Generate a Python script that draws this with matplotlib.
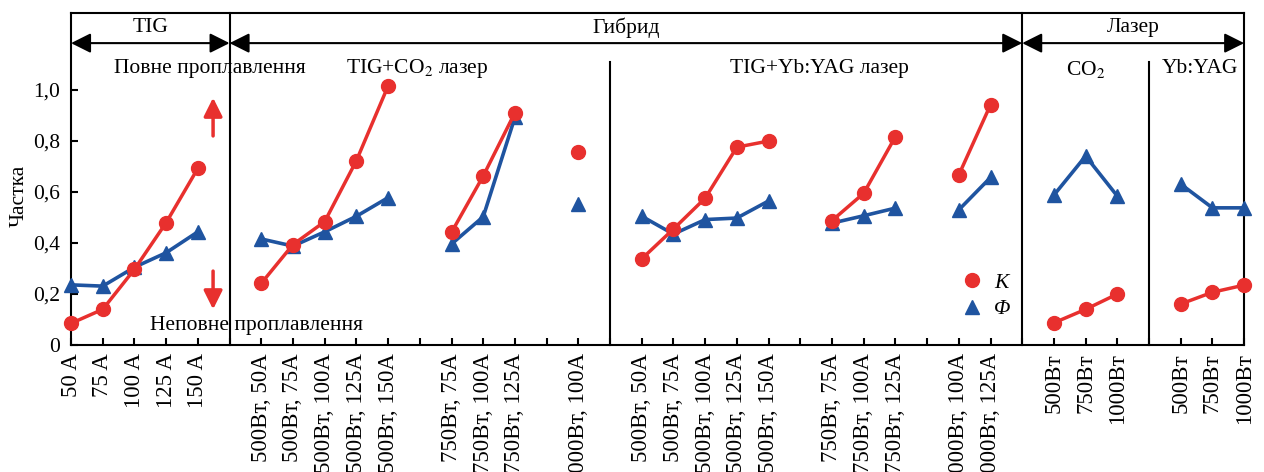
import matplotlib.pyplot as plt
from matplotlib.lines import Line2D

plt.rcParams['font.family'] = ['Liberation Serif', 'DejaVu Serif']
plt.rcParams['mathtext.fontset'] = 'stix'
plt.rcParams['font.size'] = 15.5

RED = '#e8302e'
BLUE = '#1f54a0'

# TIG
tig_labels = ["50 A", "75 A", "100 A", "125 A", "150 A"]
tig_K = [0.085, 0.14, 0.297, 0.48, 0.693]
tig_F = [0.236, 0.231, 0.305, 0.362, 0.444]

# TIG + CO2 laser
co2_500_labels = ["500Вт, 50A", "500Вт, 75A", "500Вт, 100A", "500Вт, 125A", "500Вт, 150A"]
co2_500_K = [0.242, 0.394, 0.484, 0.723, 1.016]
co2_500_F = [0.416, 0.388, 0.444, 0.505, 0.578]
co2_750_labels = ["750Вт, 75A", "750Вт, 100A", "750Вт, 125A"]
co2_750_K = [0.442, 0.663, 0.911]
co2_750_F = [0.396, 0.503, 0.893]
co2_1000_labels = ["1000Вт, 100A"]
co2_1000_K = [0.756]
co2_1000_F = [0.552]

# TIG + Yb:YAG laser
yag_500_labels = ["500Вт, 50A", "500Вт, 75A", "500Вт, 100A", "500Вт, 125A", "500Вт, 150A"]
yag_500_K = [0.338, 0.455, 0.576, 0.776, 0.80]
yag_500_F = [0.505, 0.435, 0.492, 0.498, 0.565]
yag_750_labels = ["750Вт, 75A", "750Вт, 100A", "750Вт, 125A"]
yag_750_K = [0.488, 0.595, 0.817]
yag_750_F = [0.478, 0.507, 0.537]
yag_1000_labels = ["1000Вт, 100A", "1000Вт, 125A"]
yag_1000_K = [0.667, 0.942]
yag_1000_F = [0.53, 0.657]

# laser only
las_co2_labels = ["500Вт", "750Вт", "1000Вт"]
las_co2_K = [0.087, 0.14, 0.20]
las_co2_F = [0.588, 0.741, 0.584]
las_yag_labels = ["500Вт", "750Вт", "1000Вт"]
las_yag_K = [0.161, 0.207, 0.235]
las_yag_F = [0.631, 0.538, 0.538]

y_ticks = [0, 0.2, 0.4, 0.6, 0.8, 1.0]
y_ticklabels = ["0", "0,2", "0,4", "0,6", "0,8", "1,0"]

# 'full' / 'part' = separator line, 'gap' = empty tick
layout = [
    (tig_labels, tig_K, tig_F), 'full',
    (co2_500_labels, co2_500_K, co2_500_F), 'gap',
    (co2_750_labels, co2_750_K, co2_750_F), 'gap',
    (co2_1000_labels, co2_1000_K, co2_1000_F), 'part',
    (yag_500_labels, yag_500_K, yag_500_F), 'gap',
    (yag_750_labels, yag_750_K, yag_750_F), 'gap',
    (yag_1000_labels, yag_1000_K, yag_1000_F), 'full',
    (las_co2_labels, las_co2_K, las_co2_F), 'part',
    (las_yag_labels, las_yag_K, las_yag_F),
]

fig = plt.figure(figsize=(12.64, 4.72))
ax = fig.add_axes([0.0562, 0.269, 0.9281, 0.7034])

YTOP = 1.302
ticks, ticklabels, seps = [], [], []
pos = 0
for item in layout:
    if isinstance(item, str):
        ticks.append(pos)
        ticklabels.append("")
        if item != 'gap':
            seps.append((pos, item))
        pos += 1
        continue
    labels, K, F = item
    xs = list(range(pos, pos + len(labels)))
    ax.plot(xs, F, color=BLUE, marker='^', ms=10, lw=2.6, clip_on=False, zorder=3)
    ax.plot(xs, K, color=RED, marker='o', ms=10, lw=2.5, clip_on=False, zorder=4)
    ticks += xs
    ticklabels += labels
    pos += len(labels)

last = pos - 1
ax.set_xlim(0, last)
ax.set_ylim(0, YTOP)

for x, kind in seps:
    top = YTOP if kind == 'full' else 1.11
    ax.plot([x, x], [0, top], color='k', lw=1.5, clip_on=False, zorder=2)

ax.set_xticks(ticks)
ax.set_xticklabels(ticklabels, rotation=90, va='top', ha='center', fontsize=16.5)
ax.set_yticks(y_ticks)
ax.set_yticklabels(y_ticklabels)
ax.tick_params(direction='in', length=5, width=1.5, top=False, right=False)
ax.tick_params(axis='x', pad=6)
ax.tick_params(axis='y', pad=8)
for s in ax.spines.values():
    s.set_linewidth(1.5)

ax.set_ylabel("Частка")
ax.yaxis.set_label_coords(-0.036, 0.45)

# header
arrow_y = 1.184
sep_x = [0] + [x for x, k in seps if k == 'full'] + [last]
for a, b in zip(sep_x[:-1], sep_x[1:]):
    ax.annotate('', xy=(a, arrow_y), xytext=(b, arrow_y), annotation_clip=False,
                arrowprops=dict(arrowstyle='<|-|>,head_length=0.6,head_width=0.3',
                                color='k', lw=1.5, mutation_scale=20,
                                shrinkA=0, shrinkB=0))
for (a, b), name in zip(zip(sep_x[:-1], sep_x[1:]), ["TIG", "Гибрид", "Лазер"]):
    ax.text((a + b) / 2, 1.245, name, ha='center', va='center')

ax.text(1.36, 1.086, "Повне проплавлення", ha='left', va='center')
ax.text(10.9, 1.086, "TIG+CO$_2$ лазер", ha='center', va='center')
ax.text(23.6, 1.086, "TIG+Yb:YAG лазер", ha='center', va='center')
ax.text(32, 1.08, "CO$_2$", ha='center', va='center')
ax.text(35.6, 1.086, "Yb:YAG", ha='center', va='center')
ax.text(2.49, 0.075, "Неповне проплавлення", ha='left', va='center')

# full / partial penetration arrows
arrow_kw = dict(arrowstyle='-|>,head_length=0.8,head_width=0.4', color=RED,
                lw=2.5, mutation_scale=14, shrinkA=0, shrinkB=0)
ax.annotate('', xy=(4.48, 0.97), xytext=(4.48, 0.82), arrowprops=arrow_kw)
ax.annotate('', xy=(4.48, 0.14), xytext=(4.48, 0.29), arrowprops=arrow_kw)

handles = [
    Line2D([], [], ls='none', marker='o', color=RED, ms=10, label='K'),
    Line2D([], [], ls='none', marker='^', color=BLUE, ms=10, label='Φ'),
]
ax.legend(handles=handles, frameon=False, loc='center', bbox_to_anchor=(0.78, 0.148),
          prop={'style': 'italic', 'size': 15.5}, handlelength=1, handletextpad=0.5,
          labelspacing=0.3, borderpad=0)

fig.savefig('out.png', dpi=100)
